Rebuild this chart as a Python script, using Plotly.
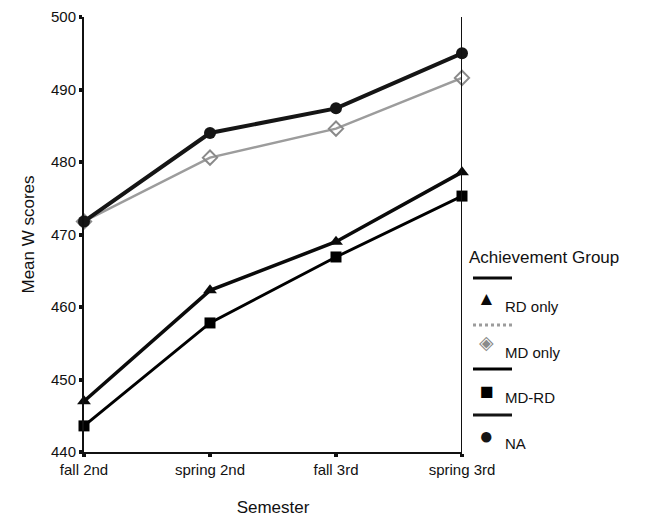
import plotly.graph_objects as go

semesters = ["fall 2nd", "spring 2nd", "fall 3rd", "spring 3rd"]
rd_only = [447.0, 462.3, 469.0, 478.6]
md_only = [471.8, 480.6, 484.6, 491.6]
md_rd = [443.6, 457.8, 466.9, 475.3]
na = [471.8, 484.0, 487.4, 495.0]
y_ticks = [440, 450, 460, 470, 480, 490, 500]

FONT = "Liberation Sans, Arial, Helvetica, sans-serif"
x_idx = list(range(len(semesters)))

fig = go.Figure()
fig.add_trace(go.Scatter(x=x_idx, y=md_only, mode="lines+markers", name="MD only",
                         cliponaxis=False,
                         line=dict(color="#9c9c9c", width=2.5),
                         marker=dict(symbol="diamond-open", size=11, color="#8a8a8a",
                                     line=dict(width=2, color="#8a8a8a"))))
fig.add_trace(go.Scatter(x=x_idx, y=na, mode="lines+markers", name="NA",
                         cliponaxis=False,
                         line=dict(color="#151515", width=4),
                         marker=dict(symbol="circle", size=12, color="#151515")))
fig.add_trace(go.Scatter(x=x_idx, y=md_rd, mode="lines+markers", name="MD-RD",
                         cliponaxis=False,
                         line=dict(color="#000000", width=3),
                         marker=dict(symbol="square", size=11, color="#000000")))
fig.add_trace(go.Scatter(x=x_idx, y=rd_only, mode="lines+markers", name="RD only",
                         cliponaxis=False,
                         line=dict(color="#0a0a0a", width=3.5),
                         marker=dict(symbol="triangle-up", size=12, color="#0a0a0a")))

fig.update_layout(
    width=653, height=526,
    margin=dict(l=76, r=199, t=9, b=82),
    paper_bgcolor="white", plot_bgcolor="white",
    showlegend=False,
    font=dict(family=FONT, color="#111", size=15),
    xaxis=dict(range=[0, 3], tickvals=x_idx, ticktext=semesters, showgrid=False,
               automargin=False,
               zeroline=False, showline=True, linecolor="#111", linewidth=2,
               ticks="outside", ticklen=3, tickwidth=4, tickcolor="#111",
               tickfont=dict(size=15), title=dict(text="Semester", font=dict(size=17), standoff=24)),
    yaxis=dict(range=[440, 500], tickvals=y_ticks, showgrid=False, zeroline=False,
               automargin=False,
               showline=True, linecolor="#111", linewidth=2,
               ticks="outside", ticklen=3, tickwidth=4, tickcolor="#111",
               tickfont=dict(size=15), title=dict(text="Mean W scores", font=dict(size=17), standoff=12)),
)

# right-side vertical line at last semester
fig.add_shape(type="line", xref="x", yref="paper", x0=3, x1=3, y0=0, y1=1,
              line=dict(color="#111", width=2))

# custom legend (SPSS style)
def py(ypix):
    return 1 - (ypix - 17) / (452 - 17)

def px(xpix):
    return (xpix - 84) / (462 - 84)

fig.add_annotation(xref="paper", yref="paper", x=px(467), y=py(257), text="Achievement Group",
                   showarrow=False, xanchor="left", yanchor="middle", font=dict(size=17))

legend_items = [
    ("RD only", "▲", 19, "#0a0a0a", "solid", "#0a0a0a", 278, 298, 306),
    ("MD only", "◈", 19, "#8a8a8a", "dot", "#9c9c9c", 325, 342, 352),
    ("MD-RD", "■", 23, "#000000", "solid", "#000000", 369, 391, 397),
    ("NA", "●", 24, "#151515", "solid", "#151515", 415, 435, 443),
]
for name, sym, sz, mcol, dash, lcol, yl, ym, yt in legend_items:
    fig.add_shape(type="line", xref="paper", yref="paper", x0=px(473), x1=px(512),
                  y0=py(yl), y1=py(yl), line=dict(color=lcol, width=3, dash=dash))
    fig.add_annotation(xref="paper", yref="paper", x=px(487), y=py(ym), text=sym,
                       showarrow=False, xanchor="center", yanchor="middle",
                       font=dict(size=sz, color=mcol))
    fig.add_annotation(xref="paper", yref="paper", x=px(503), y=py(yt), text=name,
                       showarrow=False, xanchor="left", yanchor="middle", font=dict(size=15))

fig.write_html("out.html")
